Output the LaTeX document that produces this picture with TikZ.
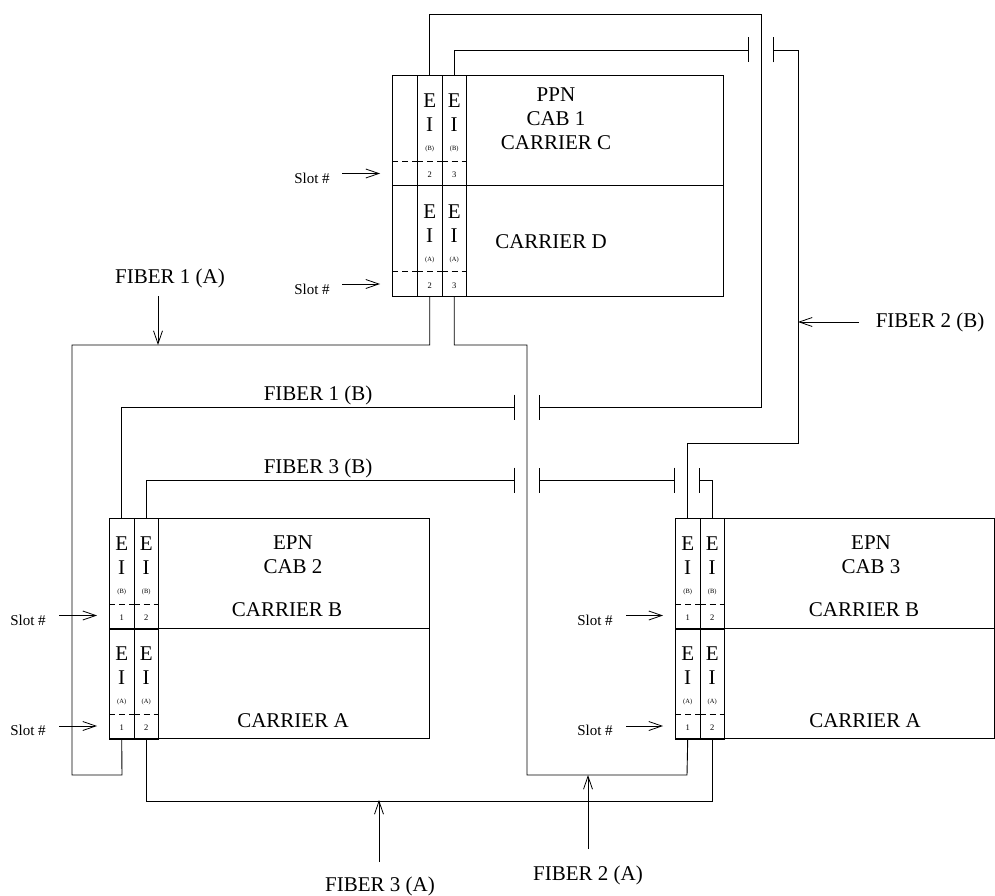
\documentclass[tikz,border=0pt]{standalone}
\usepackage{fontspec}
\setmainfont{Liberation Serif}
\usetikzlibrary{arrows.meta,positioning,calc}

% one EI board: name, left x, top y, cable tag, slot number
\newcommand{\eicell}[5]{%
  \node[cell] (#1) at (#2,#3) {};
  \draw[slotline] ($(#1.north west)+(0,86)$) -- ($(#1.north east)+(0,86)$);
  \node[eifont] (#1-e) at ($(#1.north)+(0,26)$) {E};
  \node[eifont] (#1-i) at ($(#1.north)+(0,50)$) {I};
  \node[tagfont] (#1-t) at ($(#1.north)+(0,74)$) {(#4)};
  \node[numfont] (#1-n) at ($(#1.north)+(0,100)$) {#5};
}

\begin{document}
\begin{tikzpicture}[
  x=1pt, y=-1pt,
  line width=0.9pt,
  cpl/.tip={Bar[width=25pt]},
  rack/.style={draw, anchor=north west, inner sep=0pt},
  cell/.style={draw, anchor=north west, inner sep=0pt, minimum width=24.5pt, minimum height=110.5pt},
  slotline/.style={dash pattern=on 6pt off 4pt},
  eifont/.style={inner sep=0pt, font=\fontsize{21}{24}\selectfont},
  tagfont/.style={inner sep=0pt, font=\fontsize{6.5}{7}\selectfont},
  numfont/.style={inner sep=0pt, font=\fontsize{8.5}{9}\selectfont},
  lab/.style={inner sep=0pt, align=center, font=\fontsize{21}{24}\selectfont},
  slotlab/.style={inner sep=0pt, font=\fontsize{15}{16}\selectfont},
  ptr/.style={-{Straight Barb[length=13pt,width=9pt]}, line width=0.8pt}
]
\useasboundingbox (0,0) rectangle (995,896);

% cabinets
\node[rack, minimum width=331pt, minimum height=221pt] (ppn) at (392,75) {};
\draw (ppn.west) -- (ppn.east);
\node[rack, minimum width=320pt, minimum height=220pt] (epn2) at (109,518) {};
\draw (epn2.west) -- (epn2.east);
\node[rack, minimum width=319pt, minimum height=220pt] (epn3) at (675,518) {};
\draw (epn3.west) -- (epn3.east);

% EI boards
\eicell{ppnC2}{417}{75}{B}{2}
\eicell{ppnC3}{441.5}{75}{B}{3}
\eicell{ppnD2}{417}{185.5}{A}{2}
\eicell{ppnD3}{441.5}{185.5}{A}{3}
\draw[slotline] (392,161) -- (ppnC2.north west |- 0,161);
\draw[slotline] (392,271.5) -- (ppnD2.north west |- 0,271.5);
\eicell{epn2B1}{109}{518}{B}{1}
\eicell{epn2B2}{133.5}{518}{B}{2}
\eicell{epn2A1}{109}{628}{A}{1}
\eicell{epn2A2}{133.5}{628}{A}{2}
\eicell{epn3B1}{675}{518}{B}{1}
\eicell{epn3B2}{699.5}{518}{B}{2}
\eicell{epn3A1}{675}{628}{A}{1}
\eicell{epn3A2}{699.5}{628}{A}{2}

% cabinet labels
\node[lab] (ppnlab) at (556,119) {PPN\\CAB 1\\CARRIER C};
\node[lab] (ppnD) at (551,242) {CARRIER D};
\node[lab] (epn2lab) at (293,555) {EPN\\CAB 2};
\node[lab] (epn2B) at (287,610) {CARRIER B};
\node[lab] (epn2A) at (293,721) {CARRIER A};
\node[lab] (epn3lab) at (871,555) {EPN\\CAB 3};
\node[lab] (epn3B) at (864,610) {CARRIER B};
\node[lab] (epn3A) at (865,721) {CARRIER A};

% slot pointers
\node[slotlab] (slotC) at (312,178) {Slot \#};
\draw[ptr] ([xshift=12pt]slotC.east |- 0,173.5) -- (380,173.5);
\node[slotlab] (slotD) at (312,289) {Slot \#};
\draw[ptr] ([xshift=12pt]slotD.east |- 0,284) -- (380,284);
\node[slotlab] (slot2B) at (28,620) {Slot \#};
\draw[ptr] ([xshift=13pt]slot2B.east |- 0,615.5) -- (97,615.5);
\node[slotlab] (slot2A) at (28,730) {Slot \#};
\draw[ptr] ([xshift=13pt]slot2A.east |- 0,726) -- (97,726);
\node[slotlab] (slot3B) at (595,620) {Slot \#};
\draw[ptr] ([xshift=13pt]slot3B.east |- 0,615.5) -- (663,615.5);
\node[slotlab] (slot3A) at (595,730) {Slot \#};
\draw[ptr] ([xshift=13pt]slot3A.east |- 0,726) -- (663,726);

% couplers
\coordinate (f1bL) at (515,407);
\coordinate (f1bR) at (539,407);
\coordinate (f2bL) at (749,50);
\coordinate (f2bR) at (773,50);
\coordinate (f3bL) at (515,480);
\coordinate (f3bR) at (539,480);
\coordinate (f3bM) at (675,480);
\coordinate (f3bN) at (699,480);

% fibers
\draw[-cpl] (ppnC2.north) |- (761,14) |- (f1bR);
\draw[-cpl] (ppnC3.north) |- (f2bL);
\draw[cpl-] (f2bR) -| (798,443) -| (epn3B1.north);
\draw (ppnD2.south) |- (72,345) |- (122,775) -- (epn2A1.south);
\draw (ppnD3.south) |- (527,345) |- (687,775) -- (epn3A1.south);
\draw[-cpl] (epn2B1.north) |- (f1bL);
\draw[-cpl] (epn2B2.north) |- (f3bL);
\draw[cpl-cpl] (f3bR) -- (f3bM);
\draw[cpl-] (f3bN) -| (epn3B2.north);
\draw (epn2A2.south) -- ++(0,62) -| (epn3A2.south);

% fiber labels
\node[lab] (fib1a) at (170,278) {FIBER 1 (A)};
\coordinate (fib1aTip) at (158,345);
\draw[ptr] (158,296) -- (fib1aTip);
\node[lab] (fib1b) at (318,395) {FIBER 1 (B)};
\node[lab] (fib3b) at (318,468) {FIBER 3 (B)};
\node[lab] (fib2b) at (930,322) {FIBER 2 (B)};
\coordinate (fib2bTip) at (798,322);
\draw[ptr] (859,322) -- (fib2bTip);
\node[lab] (fib2a) at (588,875) {FIBER 2 (A)};
\coordinate (fib2aTip) at (588,775);
\draw[ptr] (588,849) -- (fib2aTip);
\node[lab] (fib3a) at (380,886) {FIBER 3 (A)};
\coordinate (fib3aTip) at (379,800);
\draw[ptr] (379,862) -- (fib3aTip);
\end{tikzpicture}
\end{document}
